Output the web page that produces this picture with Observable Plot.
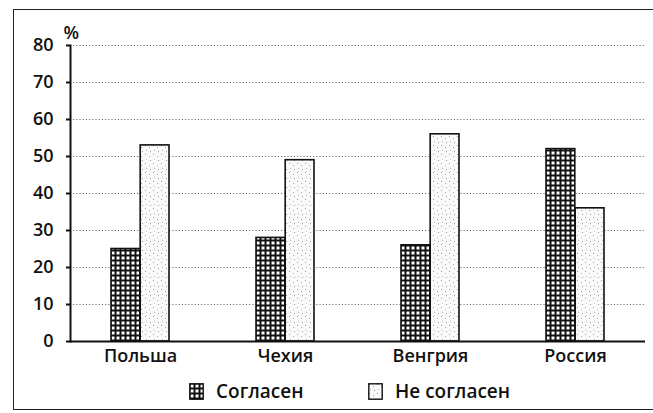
<!DOCTYPE html>
<html>
<head>
<meta charset="utf-8">
<script src="https://cdn.jsdelivr.net/npm/d3@7"></script>
<script src="https://cdn.jsdelivr.net/npm/@observablehq/plot@0.6"></script>
<style>
  html, body { margin: 0; padding: 0; background: #fff; }
  body { width: 653px; height: 413px; position: relative; overflow: hidden; font-family: "Open Sans", sans-serif; font-weight: 600; color: #111; }
  #frame { position: absolute; left: 13px; top: 9px; width: 700px; height: 401px; border: 1.5px solid #222; box-sizing: border-box; }
  #chart { position: absolute; left: 0; top: 0; }
  #legend { position: absolute; left: 0; top: 378px; width: 653px; height: 22px; }
  .item { position: absolute; top: 0; display: flex; align-items: center; font-size: 19px; }
  .item svg { margin-right: 12px; }
</style>
</head>
<body>
<div id="frame"></div>
<div id="chart"></div>
<div id="legend"></div>
<script>
const countries = ["Польша", "Чехия", "Венгрия", "Россия"];
const series = ["Согласен", "Не согласен"];
const agree = [25, 28, 26, 52];
const disagree = [53, 49, 56, 36];
const yTicks = [0, 10, 20, 30, 40, 50, 60, 70, 80];

const data = countries.flatMap((c, i) => [
  {country: c, series: series[0], value: agree[i]},
  {country: c, series: series[1], value: disagree[i]}
]);

const xRange = [70, 645];
const padIn = 0.6, padOut = 0.27;
const step = (xRange[1] - xRange[0]) / (countries.length - padIn + 2 * padOut);
const half = step * (1 - padIn) / 2;

const plot = Plot.plot({
  width: 653,
  height: 370,
  marginLeft: 70,
  marginRight: 8,
  marginTop: 45,
  marginBottom: 29,
  style: {fontFamily: "Open Sans, sans-serif", fontWeight: 600, fontSize: "18px", color: "#111", background: "transparent", overflow: "visible"},
  x: {domain: countries, range: xRange, paddingInner: padIn, paddingOuter: padOut, label: null},
  y: {domain: [0, 80], label: null},
  marks: [
    Plot.ruleY(yTicks.filter(d => d > 0), {stroke: "#555", strokeWidth: 1, strokeDasharray: "1,2.2"}),
    Plot.barY(data.filter(d => d.series === series[1]), {x: "country", y: "value", insetLeft: half, fill: "url(#patLight)", stroke: "#111", strokeWidth: 1.6}),
    Plot.barY(data.filter(d => d.series === series[0]), {x: "country", y: "value", insetRight: half, fill: "url(#patDark)", stroke: "#111", strokeWidth: 1.6}),
    Plot.axisY({ticks: yTicks, tickSize: 4, tickPadding: 13, tickFormat: d => String(d), stroke: "#111", strokeWidth: 2, fontSize: 18}),
    Plot.axisX({tickSize: 0, tickPadding: 8, fontSize: 18}),
    Plot.frame({anchor: "left", stroke: "#111", strokeWidth: 2}),
    Plot.ruleY([0], {stroke: "#111", strokeWidth: 2}),
    Plot.text(["%"], {frameAnchor: "top-left", dx: -7, dy: -19, fontSize: 18, textAnchor: "start"})
  ]
});

// patterns
const defs = `
<defs>
  <pattern id="patDark" width="5" height="5" patternUnits="userSpaceOnUse">
    <rect width="5" height="5" fill="#111"/>
    <rect x="1.5" y="1.5" width="3" height="3" fill="#fff"/>
  </pattern>
  <pattern id="patLight" width="8" height="9" patternUnits="userSpaceOnUse">
    <rect width="8" height="9" fill="#fafafa"/>
    <rect x="1" y="1" width="1" height="1" fill="#999"/>
    <rect x="5" y="3" width="1" height="1" fill="#aaa"/>
    <rect x="2" y="6" width="1" height="1" fill="#bbb"/>
    <rect x="6" y="7" width="1" height="1" fill="#999"/>
  </pattern>
</defs>`;
plot.insertAdjacentHTML("afterbegin", defs);
document.getElementById("chart").appendChild(plot);

// legend
const legend = document.getElementById("legend");
const swatches = [
  {label: series[0], fill: "url(#patDark)", left: 189},
  {label: series[1], fill: "url(#patLight)", left: 368}
];
for (const s of swatches) {
  const div = document.createElement("div");
  div.className = "item";
  div.style.left = s.left + "px";
  div.innerHTML = `<svg width="15" height="17"><rect x="0.8" y="0.8" width="13.4" height="15.4" fill="${s.fill}" stroke="#111" stroke-width="1.4"/></svg><span>${s.label}</span>`;
  legend.appendChild(div);
}
</script>
</body>
</html>
